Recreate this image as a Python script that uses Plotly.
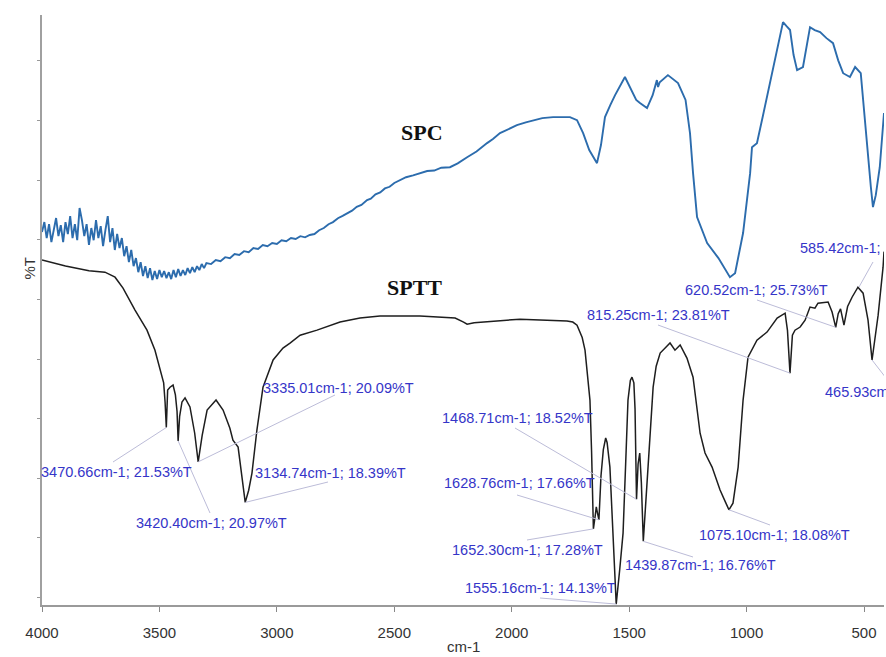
import plotly.graph_objects as go

# ---------------- data ----------------
spc_wn = [4000, 3990, 3980, 3970, 3960, 3950, 3940, 3930, 3920, 3910, 3900, 3890, 3880, 3870,
          3860, 3850, 3840, 3830, 3820, 3810, 3800, 3790, 3780, 3770, 3760, 3750, 3740, 3730,
          3720, 3710, 3700, 3690, 3680, 3670, 3660, 3650, 3640, 3630, 3620, 3610, 3600, 3590,
          3580, 3570, 3560, 3550, 3540, 3530, 3520, 3510, 3500, 3490, 3480, 3470, 3460, 3450,
          3440, 3430, 3420, 3410, 3400, 3390, 3380, 3370, 3360, 3350, 3340, 3330, 3320, 3310,
          3300, 3280, 3260, 3240, 3220, 3200, 3180, 3160, 3140, 3120, 3100, 3080, 3060, 3040,
          3020, 3000, 2980, 2960, 2940, 2920, 2900, 2880, 2860, 2840, 2820, 2800, 2780, 2761,
          2740, 2720, 2700, 2680, 2660, 2640, 2616, 2600, 2580, 2560, 2540, 2520, 2500, 2476,
          2450, 2420, 2390, 2360, 2330, 2300, 2263, 2230, 2190, 2150, 2105, 2080, 2050, 2020,
          1978, 1940, 1909, 1870, 1824, 1780, 1752, 1722, 1696, 1670, 1637, 1620, 1603, 1580,
          1560, 1518, 1490, 1470, 1454, 1424, 1400, 1382, 1377, 1370, 1335, 1292, 1260, 1241,
          1228, 1211, 1168, 1120, 1071, 1049, 1015, 985, 977, 956, 930, 900, 870, 845, 830,
          815, 800, 785, 760, 745, 730, 710, 687, 660, 632, 610, 589, 560, 538, 514, 490, 471,
          462, 450, 433, 415]
spc_T = [29.72, 30.14, 29.47, 30.05, 29.30, 29.89, 30.31, 29.55, 30.01, 29.30, 30.14, 29.64,
         30.39, 29.47, 30.05, 29.38, 30.73, 30.22, 29.55, 30.05, 29.18, 29.89, 29.38, 30.22,
         29.47, 29.97, 29.13, 29.80, 30.39, 29.30, 29.89, 28.97, 29.64, 29.05, 29.47, 28.71,
         29.13, 28.46, 28.97, 28.29, 28.63, 28.04, 28.46, 27.88, 28.29, 27.79, 28.21, 27.71,
         28.09, 27.75, 28.13, 27.83, 28.09, 27.79, 28.04, 27.75, 28.13, 27.83, 28.17, 27.88,
         28.13, 27.92, 28.21, 28.00, 28.25, 28.04, 28.29, 28.13, 28.38, 28.21, 28.42, 28.38,
         28.55, 28.50, 28.67, 28.63, 28.80, 28.76, 28.92, 28.88, 29.05, 29.01, 29.18, 29.13,
         29.26, 29.22, 29.38, 29.34, 29.47, 29.43, 29.55, 29.50, 29.60, 29.64, 29.80, 29.89,
         30.05, 30.14, 30.30, 30.40, 30.52, 30.62, 30.78, 30.86, 31.06, 31.12, 31.30, 31.38,
         31.55, 31.62, 31.78, 31.90, 32.02, 32.10, 32.19, 32.28, 32.30, 32.42, 32.44, 32.60,
         32.86, 33.10, 33.45, 33.62, 33.87, 34.00, 34.20, 34.32, 34.41, 34.50, 34.54, 34.54,
         34.54, 34.41, 33.87, 33.16, 32.61, 33.37, 34.54, 35.05, 35.46, 36.22, 35.68, 35.26,
         35.13, 34.92, 35.46, 36.09, 35.80, 36.00, 36.30, 35.97, 35.26, 33.87, 32.19, 30.35,
         29.26, 28.63, 27.83, 28.00, 29.68, 32.19, 33.28, 33.45, 34.62, 35.97, 37.35, 38.52,
         38.35, 38.19, 37.14, 36.51, 36.64, 37.56, 38.31, 38.19, 38.10, 37.85, 37.64, 36.92,
         36.38, 36.22, 36.64, 36.38, 33.58, 31.61, 30.77, 31.27, 32.44, 34.71]

sptt_wn = [4000, 3900, 3800, 3732, 3689, 3655, 3604, 3553, 3519, 3495, 3482, 3476, 3470.66,
           3465, 3455, 3442, 3432, 3425, 3420.40, 3414, 3404, 3391, 3370, 3350, 3335.01, 3318,
           3297, 3259, 3229, 3200, 3187, 3165, 3150, 3134.74, 3120, 3106, 3085, 3059, 3016,
           2974, 2944, 2901, 2829, 2731, 2646, 2561, 2391, 2241, 2205, 2190, 2160, 2122, 1965,
           1765, 1740, 1722, 1700, 1688, 1667, 1660, 1652.30, 1645, 1640, 1634, 1628.76, 1620,
           1610, 1600, 1594, 1582, 1570, 1555.16, 1540, 1526, 1515, 1505, 1495, 1488, 1480,
           1475, 1468.71, 1462, 1455, 1448, 1439.87, 1430, 1415, 1398, 1385, 1368, 1326, 1305,
           1283, 1254, 1228, 1198, 1177, 1147, 1113, 1090, 1075.10, 1058, 1036, 1015, 994, 956,
           913, 870, 836, 826, 815.25, 805, 794, 772, 751, 730, 709, 696, 653, 636, 620.52,
           610, 600, 585.42, 570, 551, 526, 504, 483, 465.93, 450, 440, 419, 415]
sptt_T = [28.55, 28.30, 28.10, 28.04, 27.83, 27.37, 26.45, 25.61, 24.77, 23.90, 23.40, 22.60,
          21.53, 23.10, 23.22, 23.31, 22.90, 22.20, 20.97, 22.00, 22.60, 22.77, 22.39, 21.30,
          20.09, 21.20, 22.26, 22.68, 22.26, 21.50, 21.00, 20.71, 19.60, 18.39, 18.90, 19.62,
          21.42, 23.22, 24.36, 24.86, 25.07, 25.40, 25.61, 25.95, 26.12, 26.20, 26.20, 26.12,
          25.95, 25.86, 25.92, 25.95, 26.07, 25.99, 25.95, 25.82, 25.30, 24.77, 22.68, 20.50,
          17.28, 17.80, 18.20, 17.90, 17.66, 19.50, 20.60, 21.09, 20.90, 19.87, 17.20, 14.13,
          15.60, 17.10, 20.00, 22.68, 23.50, 23.64, 23.40, 22.30, 18.52, 20.00, 20.46, 19.20,
          16.76, 18.50, 20.58, 23.22, 24.10, 24.65, 25.07, 24.77, 24.99, 24.44, 23.64, 21.29,
          20.46, 19.87, 18.91, 18.40, 18.08, 18.36, 19.87, 22.68, 24.48, 25.19, 25.53, 26.12,
          26.32, 25.60, 23.81, 25.40, 25.61, 25.74, 26.03, 26.58, 26.53, 26.74, 26.79, 26.37,
          25.73, 26.30, 26.50, 25.82, 26.60, 26.99, 27.41, 27.16, 26.03, 24.36, 25.60, 26.24,
          28.25, 28.90]

peak_wn = [3470.66, 3420.40, 3335.01, 3134.74, 1468.71, 1628.76, 1652.30, 1555.16,
           1439.87, 1075.10, 815.25, 620.52]
peak_T = [21.53, 20.97, 20.09, 18.39, 18.52, 17.66, 17.28, 14.13, 16.76, 18.08, 23.81, 25.73]
peak_labels = ["3470.66cm-1; 21.53%T", "3420.40cm-1; 20.97%T", "3335.01cm-1; 20.09%T",
               "3134.74cm-1; 18.39%T", "1468.71cm-1; 18.52%T", "1628.76cm-1; 17.66%T",
               "1652.30cm-1; 17.28%T", "1555.16cm-1; 14.13%T", "1439.87cm-1; 16.76%T",
               "1075.10cm-1; 18.08%T", "815.25cm-1; 23.81%T", "620.52cm-1; 25.73%T"]
edge_labels = ["585.42cm-1;", "465.93cm"]
edge_wn = [585.42, 465.93]
edge_T = [25.82, 24.36]

x_ticks = [4000, 3500, 3000, 2500, 2000, 1500, 1000, 500]

# ---------------- layout helpers ----------------
W, H = 886, 657
L, R, TOP, BOT = 42, 884, 15, 605
XR = [4000, 415]
YR = [14.09, 38.82]


def px2x(px):
    return XR[0] + (px - L) / (R - L) * (XR[1] - XR[0])


def px2y(py):
    return YR[0] + (BOT - py) / (BOT - TOP) * (YR[1] - YR[0])


# label centre (px) and leader start (px) for each peak label
label_pos = [(116, 472), (211, 523), (338, 388), (330, 473), (517, 418), (519, 483),
             (527, 550), (540, 588), (700, 565), (774, 535), (658, 315), (756, 290)]
leader_start = [(113, 462), (210, 513), (335, 395), (328, 482), (515, 428), (517, 495),
                (527, 540), (540, 598), (693, 557), (770, 525), (658, 325), (757, 300)]

fig = go.Figure()
fig.add_trace(go.Scatter(x=spc_wn, y=spc_T, mode="lines", name="SPC",
                         line=dict(color="#2c6cad", width=1.9)))
fig.add_trace(go.Scatter(x=sptt_wn, y=sptt_T, mode="lines", name="SPTT",
                         line=dict(color="#1e1e1e", width=1.5)))

lab_font = dict(family="Liberation Sans, Arial", size=14.5, color="#3535c8")
lead_line = dict(color="#bcbcd8", width=1)
shapes = []
annotations = []
for (lx, ly), (sx, sy), wn, t, txt in zip(label_pos, leader_start, peak_wn, peak_T, peak_labels):
    shapes.append(dict(type="line", xref="x", yref="y", x0=px2x(sx), y0=px2y(sy),
                       x1=wn, y1=t, line=lead_line))
    annotations.append(dict(x=px2x(lx), y=px2y(ly), xref="x", yref="y", text=txt,
                            showarrow=False, xanchor="center", yanchor="middle", font=lab_font))

# truncated labels at the right edge (as in the reference)
annotations.append(dict(x=px2x(798), y=px2y(248), xref="x", yref="y", text=edge_labels[0],
                        showarrow=False, xanchor="left", yanchor="middle", font=lab_font))
shapes.append(dict(type="line", xref="x", yref="y", x0=px2x(873), y0=px2y(262),
                   x1=px2x(859), y1=px2y(287), line=lead_line))
annotations.append(dict(x=px2x(823), y=px2y(392), xref="x", yref="y", text=edge_labels[1],
                        showarrow=False, xanchor="left", yanchor="middle", font=lab_font))
shapes.append(dict(type="line", xref="x", yref="y", x0=edge_wn[1], y0=edge_T[1],
                   x1=px2x(886), y1=px2y(378), line=lead_line))

# series names
name_font = dict(family="Liberation Serif, Times New Roman", size=22, color="#111111")
annotations.append(dict(x=px2x(422), y=px2y(132), xref="x", yref="y", text="<b>SPC</b>",
                        showarrow=False, font=name_font))
annotations.append(dict(x=px2x(414), y=px2y(287), xref="x", yref="y", text="<b>SPTT</b>",
                        showarrow=False, font=name_font))

# axis titles
annotations.append(dict(x=(18 - L) / (R - L), y=(BOT - 268) / (BOT - TOP), xref="paper",
                        yref="paper", text="%T", textangle=-90, showarrow=False,
                        font=dict(family="Liberation Sans, Arial", size=15, color="#333333")))
annotations.append(dict(x=(463 - L) / (R - L), y=(BOT - 657) / (BOT - TOP), xref="paper",
                        yref="paper", text="cm-1", showarrow=False, yanchor="bottom",
                        font=dict(family="Liberation Sans, Arial", size=15, color="#333333")))

fig.update_layout(
    width=W, height=H,
    margin=dict(l=L, r=W - R, t=TOP, b=H - BOT),
    paper_bgcolor="white", plot_bgcolor="white",
    showlegend=False,
    shapes=shapes, annotations=annotations,
    xaxis=dict(range=XR, tickvals=x_ticks, ticks="outside", ticklen=5, tickcolor="#888888",
               showline=True, linecolor="#9a9a9a", linewidth=2, showgrid=False, zeroline=False,
               tickfont=dict(family="Liberation Sans, Arial", size=15, color="#333333"),
               ticklabelstandoff=8),
    yaxis=dict(range=YR, showticklabels=False, ticks="outside", ticklen=3, tickcolor="#999999",
               tick0=16.9, dtick=2.5, showline=True, linecolor="#a0a0a0", linewidth=1.5,
               showgrid=False, zeroline=False),
)

fig.write_html("out.html", config={"displayModeBar": False},
               post_script="document.body.style.margin='0';document.body.style.overflow='hidden';")
